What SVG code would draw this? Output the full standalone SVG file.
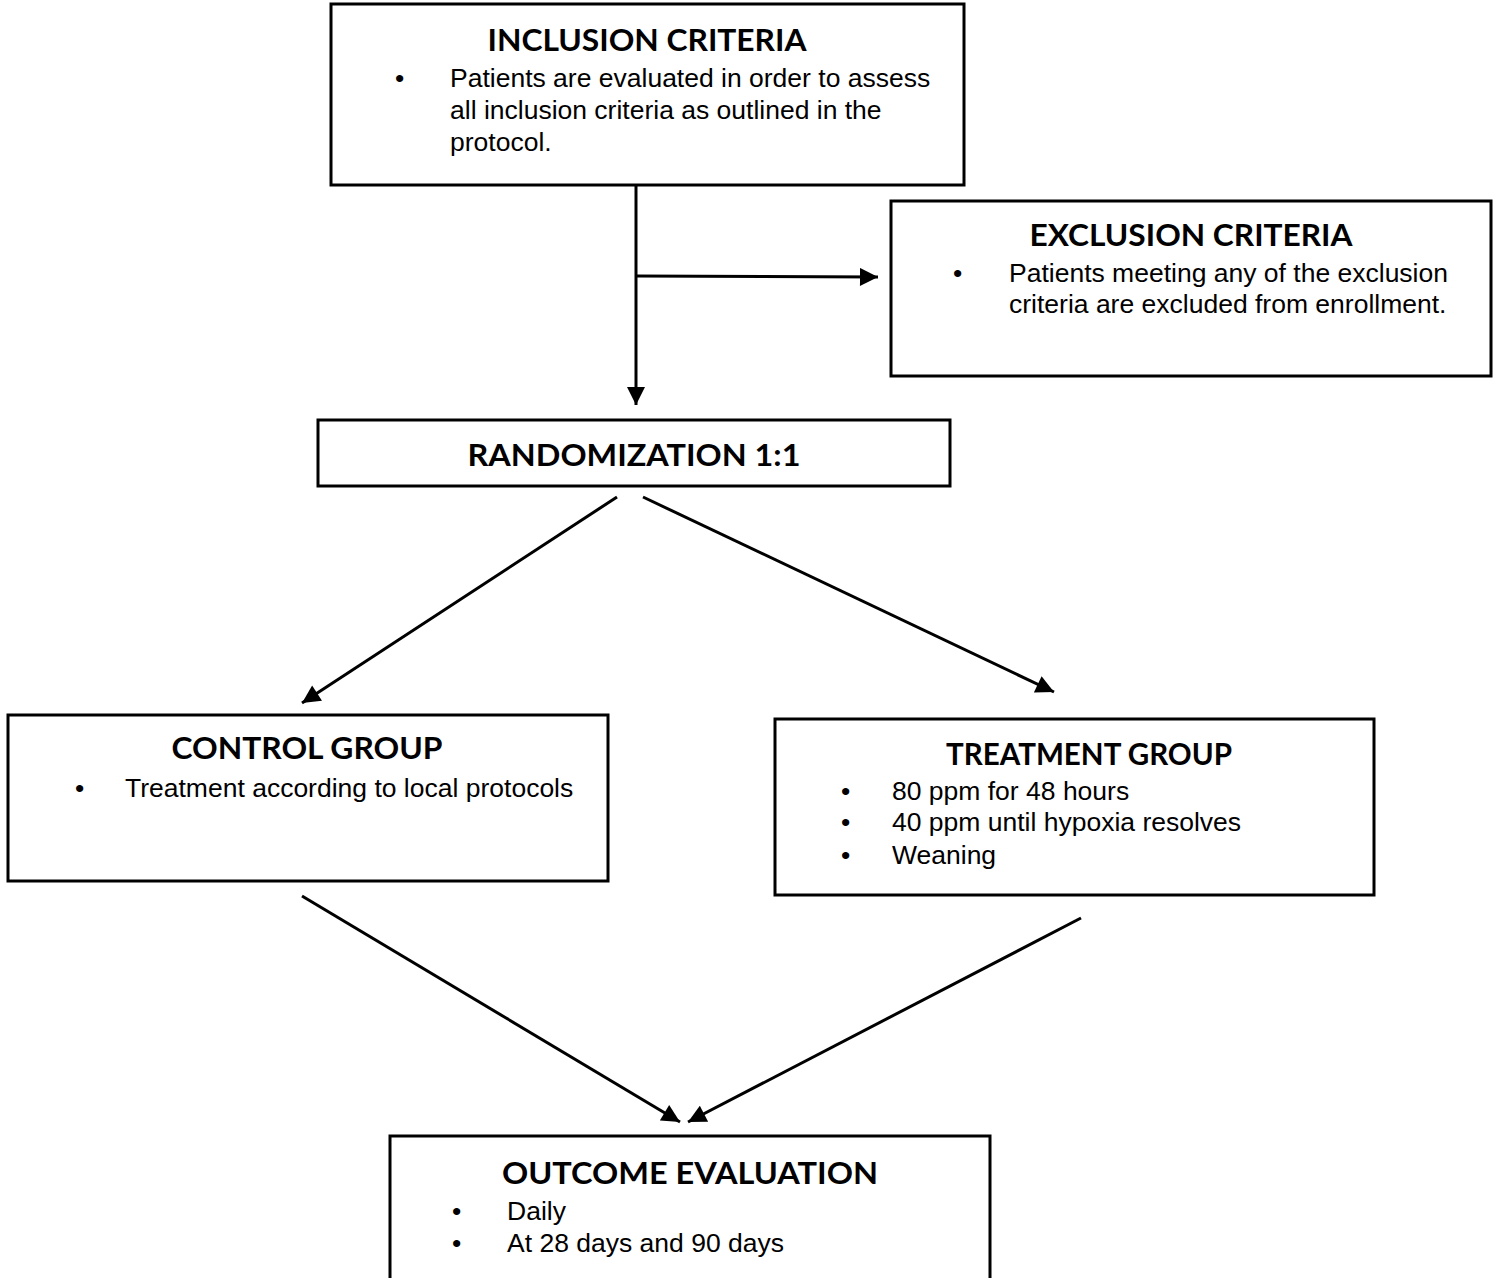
<svg xmlns="http://www.w3.org/2000/svg" width="1495" height="1278" viewBox="0 0 1495 1278">
<defs>
<marker id="ah" viewBox="0 0 10 10" refX="10" refY="5" markerWidth="6.5" markerHeight="6" markerUnits="strokeWidth" orient="auto">
<path d="M0,0 L10,5 L0,10 z" fill="#000"/>
</marker>
<style>
.box{fill:#fff;stroke:#000;stroke-width:3}
.h{font-family:Lato,"Open Sans",sans-serif;font-weight:bold;font-size:30px;text-anchor:middle;fill:#000}
.t{font-family:"Liberation Sans",Arial,sans-serif;font-size:26.5px;fill:#000}
.c{fill:none;stroke:#000;stroke-width:3}
</style>
</defs>
<rect width="1495" height="1278" fill="#fff"/>
<g id="inclusion">
<rect class="box" x="331" y="4" width="633" height="181"/>
<text class="h" x="647" y="51" textLength="319" lengthAdjust="spacingAndGlyphs">INCLUSION CRITERIA</text>
<text class="t" x="395" y="87">•</text>
<text class="t" x="450" y="87">Patients are evaluated in order to assess</text>
<text class="t" x="450" y="119">all inclusion criteria as outlined in the</text>
<text class="t" x="450" y="151">protocol.</text>
</g>
<g id="exclusion">
<rect class="box" x="891" y="201" width="600" height="175"/>
<text class="h" x="1191" y="246" textLength="323" lengthAdjust="spacingAndGlyphs">EXCLUSION CRITERIA</text>
<text class="t" x="953" y="282">•</text>
<text class="t" x="1009" y="282">Patients meeting any of the exclusion</text>
<text class="t" x="1009" y="313">criteria are excluded from enrollment.</text>
</g>
<g id="randomization">
<rect class="box" x="318" y="420" width="632" height="66"/>
<text class="h" x="634" y="466" textLength="333" lengthAdjust="spacingAndGlyphs">RANDOMIZATION 1:1</text>
</g>
<g id="control">
<rect class="box" x="8" y="715" width="600" height="166"/>
<text class="h" x="307" y="759" textLength="271" lengthAdjust="spacingAndGlyphs">CONTROL GROUP</text>
<text class="t" x="75" y="797">•</text>
<text class="t" x="125" y="797">Treatment according to local protocols</text>
</g>
<g id="treatment">
<rect class="box" x="775" y="719" width="599" height="176"/>
<text class="h" x="1089" y="765" textLength="286" lengthAdjust="spacingAndGlyphs">TREATMENT GROUP</text>
<text class="t" x="841" y="800">•</text>
<text class="t" x="892" y="800">80 ppm for 48 hours</text>
<text class="t" x="841" y="831">•</text>
<text class="t" x="892" y="831">40 ppm until hypoxia resolves</text>
<text class="t" x="841" y="864">•</text>
<text class="t" x="892" y="864">Weaning</text>
</g>
<g id="outcome">
<path class="box" d="M390,1285 V1136 H990 V1285"/>
<text class="h" x="690" y="1184" textLength="376" lengthAdjust="spacingAndGlyphs">OUTCOME EVALUATION</text>
<text class="t" x="452" y="1220">•</text>
<text class="t" x="507" y="1220">Daily</text>
<text class="t" x="452" y="1252">•</text>
<text class="t" x="507" y="1252">At 28 days and 90 days</text>
</g>
<g id="connectors">
<line class="c" x1="636" y1="185" x2="636" y2="405" marker-end="url(#ah)"/>
<line class="c" x1="636" y1="276" x2="878" y2="277" marker-end="url(#ah)"/>
<line class="c" x1="617" y1="497" x2="302" y2="703" marker-end="url(#ah)"/>
<line class="c" x1="643" y1="497" x2="1054" y2="692" marker-end="url(#ah)"/>
<line class="c" x1="302" y1="896" x2="680" y2="1122" marker-end="url(#ah)"/>
<line class="c" x1="1081" y1="918" x2="688" y2="1122" marker-end="url(#ah)"/>
</g>
</svg>
